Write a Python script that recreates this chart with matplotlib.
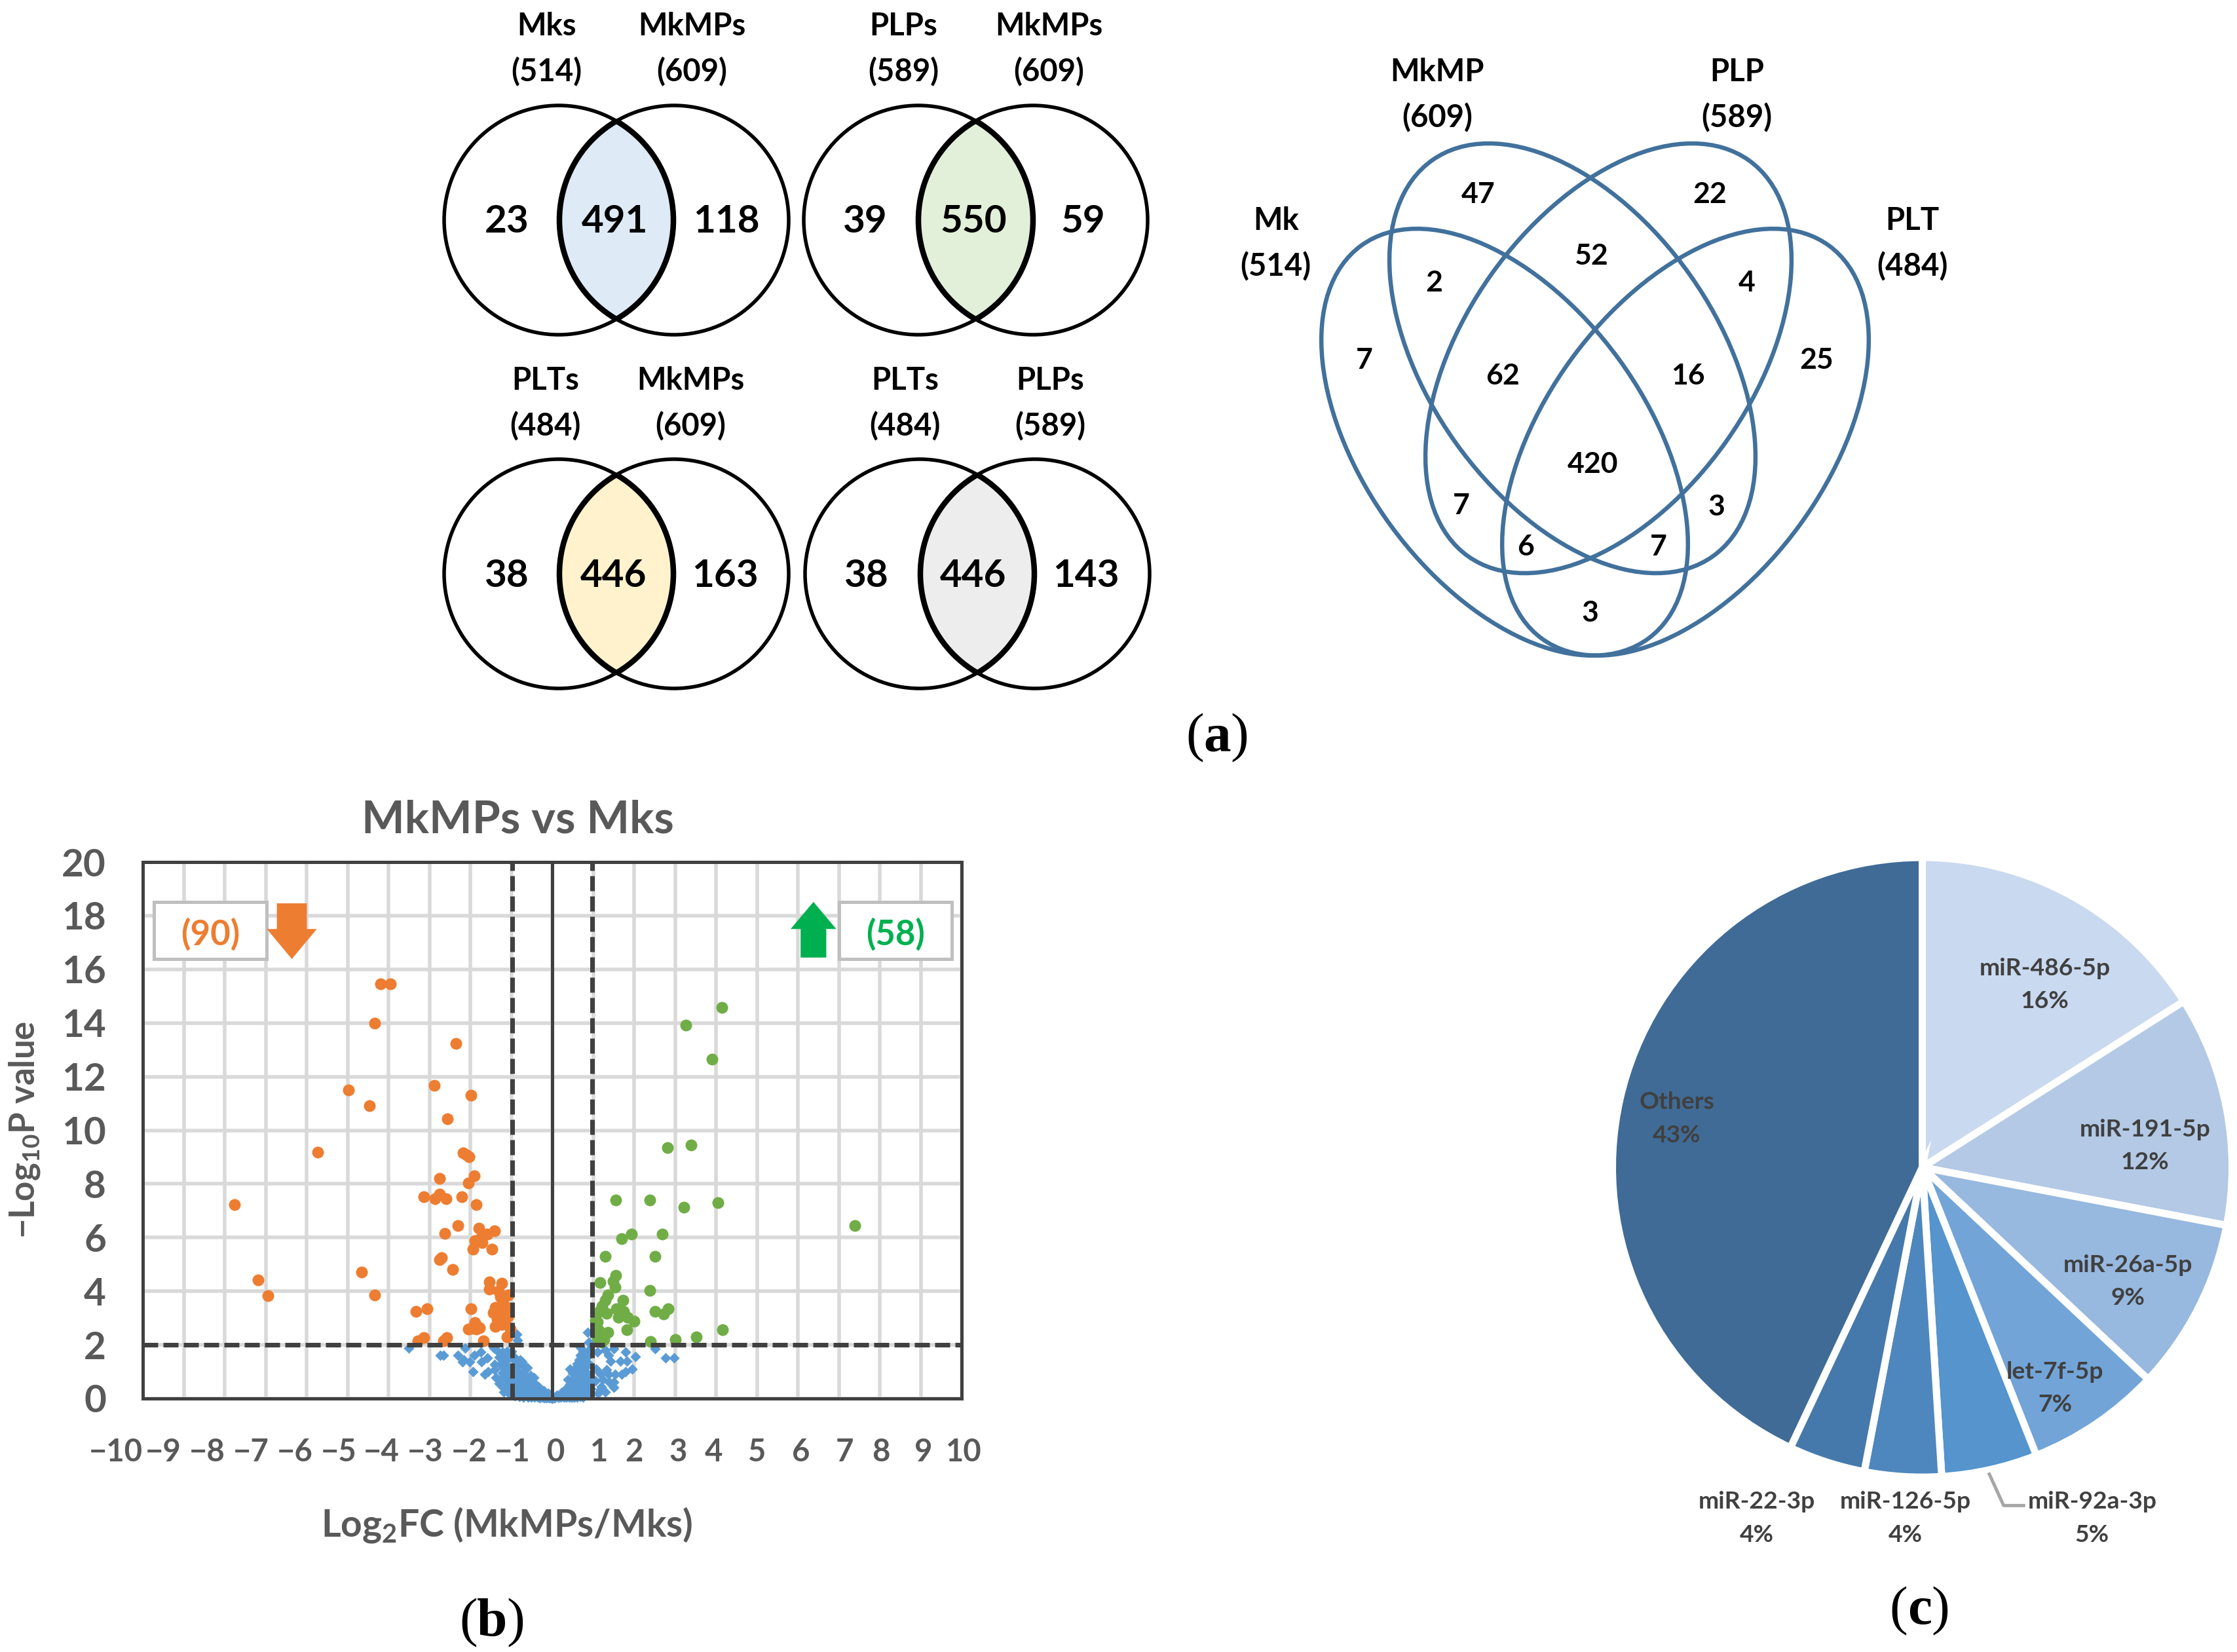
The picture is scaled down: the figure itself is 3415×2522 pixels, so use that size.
import matplotlib
matplotlib.use('Agg')
import matplotlib.pyplot as plt
import numpy as np
from matplotlib.patches import Circle, Ellipse, Rectangle, Polygon
from matplotlib.transforms import ScaledTranslation

plt.rcParams['font.family'] = ['Lato', 'DejaVu Sans']
plt.rcParams['mathtext.fontset'] = 'custom'
plt.rcParams['mathtext.rm'] = 'Lato:bold'
plt.rcParams['mathtext.bf'] = 'Lato:bold'
plt.rcParams['mathtext.it'] = 'Lato:bold'

W, H = 3416, 2522
S = 3416 / 1568  # shrunk preview to full size

# ---------- data ----------
venn2_titles = [('Mks', 'MkMPs'), ('PLPs', 'MkMPs'), ('PLTs', 'MkMPs'), ('PLTs', 'PLPs')]
venn2_sizes = [(514, 609), (589, 609), (484, 609), (484, 589)]
venn2_counts = [(23, 491, 118), (39, 550, 59), (38, 446, 163), (38, 446, 143)]
venn2_fill = ['#DEEAF6', '#E2EFD9', '#FFF2CC', '#EDEDED']

venn4_names = ['Mk', 'MkMP', 'PLP', 'PLT']
venn4_sizes = [514, 609, 589, 484]
venn4_counts = [47, 22, 2, 52, 4, 7, 25, 62, 16, 420, 7, 3, 6, 7, 3]

orange_x = [-4.2,-3.95,-4.34,-2.36,-2.88,-4.97,-1.99,-4.46,-2.56,-5.73,-7.76,-7.19,-6.94,-4.65,-4.34,-3.33,-3.06,
            -2.17,-2.09,-2.03,-2.75,-1.91,-2.05,-3.14,-2.87,-2.75,-2.6,-2.21,-1.86,-2.31,-2.62,-1.79,-1.41,-1.58,-1.76,
            -1.89,-1.72,-1.93,-1.48,-2.7,-2.75,-2.43,-1.54,-1.23,-1.54,-1.32,-1.07,-1.27,-1.4,-1.11,-1.44,-1.27,-1.07,
            -1.4,-1.23,-1.03,-1.11,-1.27,-1.99,-1.89,-2.05,-1.77,-1.95,-1.85,-1.68,-3.14,-3.28,-2.58,-2.66,-1.2,-1.35,-1.15]
orange_y = [15.47,15.47,14.0,13.24,11.68,11.5,11.31,10.92,10.42,9.17,7.24,4.43,3.84,4.71,3.85,3.26,3.35,
            9.16,9.08,9.0,8.2,8.3,8.03,7.52,7.44,7.63,7.44,7.52,7.24,6.44,6.16,6.35,6.24,6.12,5.96,
            5.88,5.8,5.57,5.57,5.26,5.18,4.8,4.35,4.29,4.09,4.01,3.85,3.78,3.39,3.39,3.2,3.0,3.07,
            2.68,2.76,2.6,2.29,3.2,3.34,2.84,2.6,2.64,2.62,2.6,2.14,2.26,2.14,2.26,2.14,3.55,2.95,2.85]

green_x = [4.15,3.27,3.9,2.82,3.39,1.55,2.39,3.21,4.04,7.39,1.69,1.94,2.69,1.3,2.51,2.39,1.55,1.49,1.53,1.17,
           1.36,1.29,1.72,1.22,1.57,1.74,1.15,1.32,1.61,1.84,2.0,1.11,2.51,2.72,2.83,1.82,1.36,1.13,1.11,1.26,
           4.16,2.4,3.01,3.52,1.05,1.2]
green_y = [14.59,13.91,12.66,9.35,9.45,7.4,7.4,7.12,7.31,6.44,5.95,6.14,6.14,5.29,5.29,4.04,4.6,4.36,4.15,4.32,
           3.87,3.66,3.66,3.45,3.35,3.24,3.24,3.17,3.03,3.03,2.89,2.86,3.25,3.14,3.34,2.57,2.47,2.54,2.26,2.19,
           2.57,2.12,2.19,2.29,2.9,2.1]

blue_x = [-3.51,-2.73,-2.65,-2.31,-2.13,-2.16,-2.19,-2.02,-1.91,-1.74,-1.73,-1.59,-1.94,-1.65,-1.57,
          -1.43,-1.33,-1.22,-1.11,-1.27,-1.17,-1.06,-1.41,-1.27,-1.41,-1.22,-1.11,-1.38,-1.27,-1.17,-1.06,
          -1.22,-1.19,-1.11,-1.09,-1.06,-1.11,-0.95,-0.79,-0.74,-0.85,-0.69,-0.61,-0.85,-0.74,-0.53,-0.45,
          -0.85,-0.71,-0.58,-0.85,-0.74,-0.58,-0.42,-0.34,-0.31,-0.21,-0.1,-0.82,-0.66,-0.5,-0.37,-0.23,-0.05,
          -0.87,-0.85,-0.95,-0.65,-0.55,-0.47,-0.4,-0.3,-0.26,-0.17,-0.12,-0.04,0.0,0.04,0.08,-0.9,-0.68,-0.75,
          -0.92,-0.88,-0.8,-0.72,-0.63,-0.56,-0.49,-0.44,-0.38,-0.33,-0.28,-0.92,-0.78,-0.62,-0.5,-0.42,-0.92,-0.8,
          -0.7,-0.6,-0.52,-0.44,-0.36,-0.3,-0.24,-0.19,-0.14,-0.08,-1.0,-1.0,-1.0,-1.3,-1.15,-1.2,-1.3,
          0.11,0.22,0.33,0.43,0.49,0.59,0.65,0.65,0.75,0.75,0.49,0.43,0.6,0.75,0.83,0.86,0.86,0.7,0.54,0.38,
          0.49,0.65,0.81,0.27,0.43,0.59,0.75,0.91,0.16,0.3,0.4,0.52,0.62,0.7,0.78,0.9,0.55,0.68,0.8,0.72,0.58,
          0.86,0.89,0.68,0.8,
          0.14,0.2,0.26,0.32,0.36,0.42,0.47,0.52,0.56,0.62,0.66,0.72,0.78,0.84,0.9,0.2,0.28,0.36,0.44,0.5,0.58,
          0.64,0.7,0.76,0.82,0.9,0.34,0.42,0.5,0.56,0.64,0.7,0.76,0.84,0.92,0.46,0.54,0.6,0.68,0.74,0.8,
          1.1,1.29,1.37,1.51,1.79,2.03,2.51,1.43,1.66,1.82,2.77,2.97,1.07,1.33,1.95,1.79,1.69,1.19,1.37,1.53,
          1.23,1.39,1.5,1.2,1.5,1.18,1.05,0.94,1.12,1.3]
blue_y = [1.89,1.6,1.6,1.6,1.87,1.44,1.36,1.37,1.6,1.73,1.36,1.52,1.01,0.91,1.01,
          1.89,1.77,1.73,1.77,1.52,1.56,1.52,1.28,1.28,1.07,0.95,1.03,0.78,0.7,0.78,0.86,
          0.45,0.25,0.37,0.53,0.2,1.23,1.56,1.44,1.36,1.19,1.19,1.15,0.95,0.9,0.86,0.78,
          0.7,0.62,0.66,0.45,0.37,0.45,0.53,0.45,0.33,0.29,0.2,0.16,0.12,0.16,0.12,0.06,0.04,
          2.39,2.18,1.2,0.5,0.35,0.42,0.25,0.15,0.22,0.1,0.05,0.02,0.01,0.02,0.05,0.8,0.28,0.2,
          1.42,1.05,0.85,0.98,0.8,0.58,0.6,0.3,0.22,0.08,0.12,0.4,0.55,0.32,0.28,0.12,0.1,0.08,
          0.06,0.06,0.05,0.05,0.04,0.03,0.04,0.03,0.03,0.02,1.75,1.0,0.6,1.55,1.4,1.15,0.55,
          0.12,0.21,0.37,0.53,0.7,0.86,1.11,1.44,1.77,1.44,0.95,1.11,1.3,0.95,1.19,0.86,0.53,0.53,0.53,0.7,
          0.29,0.21,0.21,0.08,0.08,0.08,0.06,0.12,0.05,0.2,0.4,0.4,0.7,1.0,0.7,0.4,1.1,1.6,1.65,1.25,0.15,
          2.47,2.1,1.9,1.5,
          0.05,0.1,0.14,0.2,0.25,0.3,0.42,0.5,0.6,0.76,0.95,1.08,1.3,1.55,1.8,0.04,0.05,0.08,0.16,0.22,0.3,
          0.46,0.6,0.8,1.0,1.3,0.04,0.05,0.06,0.12,0.16,0.25,0.34,0.4,0.6,0.04,0.04,0.05,0.08,0.12,0.14,
          1.73,1.81,1.6,1.85,1.73,1.56,1.85,1.4,1.4,1.4,1.51,1.51,1.11,1.07,1.11,0.99,0.91,0.91,0.91,0.91,
          0.7,0.62,0.62,0.45,0.41,0.33,0.66,0.37,0.2,0.25]

xtick_values = list(range(-10, 11))
ytick_values = list(range(0, 21, 2))
n_down, n_up = 90, 58

pie_names = ['miR-486-5p', 'miR-191-5p', 'miR-26a-5p', 'let-7f-5p', 'miR-92a-3p', 'miR-126-5p', 'miR-22-3p', 'Others']
pie_values = [16, 12, 9, 7, 5, 4, 4, 43]
pie_colors = ['#C9D9EF', '#B3C9E5', '#97B8DF', '#72A4D8', '#5594CD', '#4E87BD', '#4679AB', '#3F6B96']

# ---------- layout ----------
fig = plt.figure(figsize=(W / 200, H / 200), dpi=200, facecolor='white')
PX = 72 / 200  # points per pixel

# --- volcano
L, R, T, B = 218, 1468, 1316, 2135
ax = fig.add_axes([L / W, 1 - B / H, (R - L) / W, (B - T) / H])
ax.set_xlim(-10, 10)
ax.set_ylim(0, 20)
ax.set_xticks(xtick_values)
ax.set_yticks(ytick_values)
ax.set_xticklabels([str(v).replace('-', '\u2212') for v in xtick_values])
ax.grid(True, color='#D9D9D9', lw=5.5 * PX, zorder=0)
ax.set_axisbelow(True)
ax.tick_params(length=0, colors='#595959')
ax.tick_params(axis='x', labelsize=17, pad=60 * PX)
ax.tick_params(axis='y', labelsize=21, pad=56 * PX)
for lab in ax.get_xticklabels() + ax.get_yticklabels():
    lab.set_fontweight('bold')
# x tick labels sit slightly off their grid lines in the reference (full-size pixels)
xtick_label_px = [169, 249, 316, 383, 450, 517, 582, 649, 716, 782, 848, 915, 968, 1035, 1089, 1156, 1223, 1290,
                  1345, 1410, 1471]
for lab, v, px in zip(ax.get_xticklabels(), xtick_values, xtick_label_px):
    dx = px - (L + (R - L) * (v + 10) / 20)
    if v == -10:
        dx += 8
    lab.set_transform(lab.get_transform() + ScaledTranslation(dx / 200, 0, fig.dpi_scale_trans))
for sp in ax.spines.values():
    sp.set_linewidth(5 * PX)
    sp.set_color('#404040')
    sp.set_zorder(6)
ax.scatter(blue_x, blue_y, s=(11.5 * PX) ** 2, c='#5B9BD5', marker='D', lw=0, zorder=2, clip_on=False)
ax.scatter(orange_x, orange_y, s=(18 * PX) ** 2, c='#ED7D31', lw=0, zorder=3)
ax.scatter(green_x, green_y, s=(18 * PX) ** 2, c='#70AD47', lw=0, zorder=3)
ax.axvline(0, color='#404040', lw=5 * PX, zorder=5)
dash = (0, (23 / 7, 8 / 7))
ax.axvline(-0.97, color='#404040', lw=7 * PX, ls=dash, zorder=5)
ax.axvline(0.97, color='#404040', lw=7 * PX, ls=dash, zorder=5)
ax.axhline(2, color='#404040', lw=7 * PX, ls=dash, zorder=5)

# --- pie
cx, cy, r = 1347 * S, 818 * S, 473
pa = fig.add_axes([(cx - r) / W, 1 - (cy + r) / H, 2 * r / W, 2 * r / H])
pa.pie(pie_values, colors=pie_colors, startangle=90, counterclock=False, radius=1,
       wedgeprops=dict(edgecolor='white', linewidth=11 * PX))
pa.set_xlim(-1, 1)
pa.set_ylim(-1, 1)
pa.set_aspect('equal')

# --- overlay in full-size pixels
ov = fig.add_axes([0, 0, 1, 1], zorder=10)
ov.set_xlim(0, W)
ov.set_ylim(H, 0)
ov.axis('off')
ov.patch.set_alpha(0)


def txt(x, y, s, size=17.5, color='black', weight='bold', **kw):
    ov.text(x * S, (y + 1.5) * S, s, fontsize=size, color=color, fontweight=weight,
            ha='center', va='center', **kw)


# two-set Venn diagrams: circle centres in full-size pixels
circle_r = 175
circle_pos = [((853, 336), (1029, 336)), ((1402, 336), (1577, 336)),
              ((853, 876), (1029, 876)), ((1404, 876), (1580, 876))]
head_pos = [((383, 17), (485, 17)), ((633, 17), (735, 17)),
            ((382, 265), (484, 265)), ((634, 265), (736, 265))]
num_pos = [((355, 154), (431, 154), (509, 154)), ((606, 154), (682, 154), (759, 154)),
           ((355, 402), (430, 402), (508, 402)), ((607, 402), (682, 402), (761, 402))]
for i in range(4):
    (a, b) = circle_pos[i]
    ov.add_patch(Circle(a, circle_r, fc='none', ec='black', lw=5.5 * PX))
    ov.add_patch(Circle(b, circle_r, fc='none', ec='black', lw=5.5 * PX))
    lens = Circle(a, circle_r, fc=venn2_fill[i], ec='none', zorder=0.5)
    ov.add_patch(lens)
    lens.set_clip_path(Circle(b, circle_r, transform=ov.transData))
    edge_a = Circle(a, circle_r, fc='none', ec='black', lw=8.5 * PX, zorder=1.5)
    ov.add_patch(edge_a)
    edge_a.set_clip_path(Circle(b, circle_r + 2, transform=ov.transData))
    edge_b = Circle(b, circle_r, fc='none', ec='black', lw=8.5 * PX, zorder=1.5)
    ov.add_patch(edge_b)
    edge_b.set_clip_path(Circle(a, circle_r + 2, transform=ov.transData))
    for j in range(2):
        hx, hy = head_pos[i][j]
        txt(hx, hy, venn2_titles[i][j], size=17)
        txt(hx, hy + 32, f'({venn2_sizes[i][j]})', size=17)
    for j in range(3):
        nx, ny = num_pos[i][j]
        txt(nx, ny, str(venn2_counts[i][j]), size=21)

# four-set Venn ellipses (centre x, centre y, long axis, short axis, angle) in full-size pixels
venn4_shapes = [(2297, 675, 743, 431, 53.85), (2400.5, 547, 741, 440, 54.7),
                (2455.5, 547, 741, 440, -54.7), (2573, 675, 743, 431, -53.85)]
for ex, ey, ew, eh, ang in venn4_shapes:
    ov.add_patch(Ellipse((ex, ey), ew, eh, angle=ang, fc='none', ec='#41719C', lw=6.5 * PX))

v4_head = [(894, 153), (1007, 49), (1217, 49), (1340, 153)]
for (x, y), n, s in zip(v4_head, venn4_names, venn4_sizes):
    txt(x, y, n, size=17)
    txt(x, y + 32, f'({s})', size=17)
v4_pos = [(1036, 135), (1198, 135), (1005, 197), (1115, 178), (1224, 197), (956, 251), (1273, 251), (1053, 262),
          (1183, 262), (1116, 324), (1024, 353), (1203, 354), (1069, 382), (1162, 382), (1114, 428)]
for (x, y), c in zip(v4_pos, venn4_counts):
    txt(x, y, str(c), size=16)

# panel letters: regular parentheses round a bold letter
for x, y, s, hw in [(853, 513, 'a', 20), (345, 1133, 'b', 22), (1345, 1125, 'c', 18)]:
    ov.text(x * S, y * S, s, fontsize=30, ha='center', va='center_baseline', family='Liberation Serif',
            fontweight='bold', color='black')
    ov.text(x * S - hw, y * S, '(', fontsize=30, ha='right', va='center_baseline', family='Liberation Serif',
            color='black')
    ov.text(x * S + hw, y * S, ')', fontsize=30, ha='left', va='center_baseline', family='Liberation Serif',
            color='black')

# volcano annotations
txt(363, 573, 'MkMPs vs Mks', size=25, color='#595959')
txt(355, 1067, r'Log$_{\mathbf{2}}$FC (MkMPs/Mks)', size=20.5, color='#595959')
txt(17, 790, '\u2212Log$_{\\mathbf{10}}$P value', size=19, color='#595959', rotation=90)
for (x0, x1), n, col in [((108, 187), n_down, '#ED7D31'), ((588, 667), n_up, '#00B050')]:
    ov.add_patch(Rectangle((x0 * S, 632 * S), (x1 - x0) * S, 40 * S, fc='white', ec='#BFBFBF', lw=5 * PX, zorder=3))
    txt((x0 + x1) / 2, 653, f'({n})', size=19, color=col, zorder=4)
ov.add_patch(Polygon(np.array([(194, 633), (215, 633), (215, 651), (222, 651), (204.5, 672), (187, 651), (194, 651)]) * S,
                     fc='#ED7D31', ec='none', zorder=4))
ov.add_patch(Polygon(np.array([(561, 671), (579, 671), (579, 651), (586, 651), (570, 632), (554, 651), (561, 651)]) * S,
                     fc='#00B050', ec='none', zorder=4))

# pie labels
pie_label_pos = [(1433, 677), (1503, 790), (1491, 885), (1440, 960), (1466, 1051), (1335, 1051), (1231, 1051), (1175, 771)]
for (x, y), n, v in zip(pie_label_pos, pie_names, pie_values):
    txt(x, y, n, size=13.4, color='#404040')
    txt(x, y + 23, f'{v}%', size=13.4, color='#404040')
ov.plot(np.array([1394, 1404, 1418]) * S, np.array([1033, 1055, 1055]) * S, color='#A6A6A6', lw=5 * PX)

fig.savefig('out.png', dpi=200, facecolor='white')
